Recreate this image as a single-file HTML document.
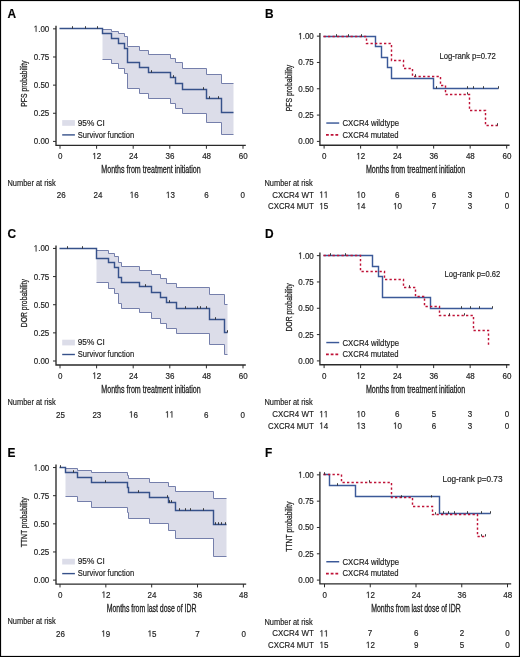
<!DOCTYPE html>
<html><head><meta charset="utf-8"><style>
html,body{margin:0;padding:0;background:#fff;}
body{width:520px;height:657px;overflow:hidden;}
svg{display:block;font-family:"Liberation Sans", sans-serif;will-change:transform;}
text{stroke:#1e1e1e;stroke-width:0.18px;}
.g{will-change:transform;}
</style></head><body>
<svg width="520" height="657" viewBox="0 0 520 657">
<rect x="0" y="0" width="520" height="657" fill="#fff"/>
<g opacity="0.999">
<path d="M102.50 29.50L111.50 29.50L111.50 31.50L118.50 31.50L118.50 33.50L124.50 33.50L124.50 36.50L127.50 36.50L127.50 46.50L139.50 46.50L139.50 50.50L148.50 50.50L148.50 54.50L170.50 54.50L170.50 58.50L175.50 58.50L175.50 62.50L182.50 62.50L182.50 68.50L206.50 68.50L206.50 74.50L221.50 74.50L221.50 83.50L233.50 83.50L233.50 134.50L221.50 134.50L221.50 122.50L206.50 122.50L206.50 113.50L182.50 113.50L182.50 108.50L175.50 108.50L175.50 103.50L170.50 103.50L170.50 98.50L148.50 98.50L148.50 93.50L139.50 93.50L139.50 88.50L127.50 88.50L127.50 73.50L124.50 73.50L124.50 68.50L118.50 68.50L118.50 63.50L111.50 63.50L111.50 59.50L102.50 59.50Z" fill="#dcdde9"/>
<path d="M102.50 29.50H111.50V31.50H118.50V33.50H124.50V36.50H127.50V46.50H139.50V50.50H148.50V54.50H170.50V58.50H175.50V62.50H182.50V68.50H206.50V74.50H221.50V83.50H233.50" fill="none" stroke="#757fab" stroke-width="1"/>
<path d="M102.50 59.50H111.50V63.50H118.50V68.50H124.50V73.50H127.50V88.50H139.50V93.50H148.50V98.50H170.50V103.50H175.50V108.50H182.50V113.50H206.50V122.50H221.50V134.50H233.50" fill="none" stroke="#757fab" stroke-width="1"/>
<path d="M59.50 28.50H102.50V33.50H111.50V38.50H118.50V43.50H124.50V48.50H127.50V62.50H139.50V67.50H148.50V72.50H170.50V77.50H175.50V83.50H182.50V89.50H206.50V98.50H221.50V112.50H233.50" fill="none" stroke="#36518a" stroke-width="1.45"/>
<path d="M72.50 28.50V26.20" stroke="#2a2a2a" stroke-width="0.9"/>
<path d="M85.50 28.50V26.20" stroke="#2a2a2a" stroke-width="0.9"/>
<path d="M97.50 28.50V26.20" stroke="#2a2a2a" stroke-width="0.9"/>
<path d="M151.50 72.50V70.20" stroke="#2a2a2a" stroke-width="0.9"/>
<path d="M173.50 77.50V75.20" stroke="#2a2a2a" stroke-width="0.9"/>
<path d="M203.50 89.50V87.20" stroke="#2a2a2a" stroke-width="0.9"/>
<path d="M209.50 98.50V96.20" stroke="#2a2a2a" stroke-width="0.9"/>
<path d="M218.50 98.50V96.20" stroke="#2a2a2a" stroke-width="0.9"/>
<path d="M56.00 25.80V145.35H245.80" fill="none" stroke="#2a2a2a" stroke-width="1.35"/>
<path d="M53.00 28.85H56.00" stroke="#2a2a2a" stroke-width="1"/>
<path transform="translate(33.71,31.85) scale(0.00391,-0.00435)" d="M696 0H515V1237L197 1010V1180L530 1409H696Z" fill="#1e1e1e" stroke="#1e1e1e" stroke-width="41.4"/>
<text transform="translate(38.17,31.85) scale(0.9,1)" font-size="8.9" fill="#1e1e1e">.00</text>
<path d="M53.00 56.99H56.00" stroke="#2a2a2a" stroke-width="1"/>
<text transform="translate(49.30,59.99) scale(0.9,1)" font-size="8.9" text-anchor="end" font-weight="normal" fill="#1e1e1e">0.75</text>
<path d="M53.00 85.13H56.00" stroke="#2a2a2a" stroke-width="1"/>
<text transform="translate(49.30,88.13) scale(0.9,1)" font-size="8.9" text-anchor="end" font-weight="normal" fill="#1e1e1e">0.50</text>
<path d="M53.00 113.26H56.00" stroke="#2a2a2a" stroke-width="1"/>
<text transform="translate(49.30,116.26) scale(0.9,1)" font-size="8.9" text-anchor="end" font-weight="normal" fill="#1e1e1e">0.25</text>
<path d="M53.00 141.40H56.00" stroke="#2a2a2a" stroke-width="1"/>
<text transform="translate(49.30,144.40) scale(0.9,1)" font-size="8.9" text-anchor="end" font-weight="normal" fill="#1e1e1e">0.00</text>
<path d="M60.00 145.35V148.75" stroke="#2a2a2a" stroke-width="1"/>
<text transform="translate(60.20,159.05) scale(0.9,1)" font-size="8.9" text-anchor="middle" font-weight="normal" fill="#1e1e1e">0</text>
<path d="M96.60 145.35V148.75" stroke="#2a2a2a" stroke-width="1"/>
<path transform="translate(92.35,159.05) scale(0.00391,-0.00435)" d="M696 0H515V1237L197 1010V1180L530 1409H696Z" fill="#1e1e1e" stroke="#1e1e1e" stroke-width="41.4"/>
<text transform="translate(96.80,159.05) scale(0.9,1)" font-size="8.9" fill="#1e1e1e">2</text>
<path d="M133.20 145.35V148.75" stroke="#2a2a2a" stroke-width="1"/>
<text transform="translate(133.40,159.05) scale(0.9,1)" font-size="8.9" text-anchor="middle" font-weight="normal" fill="#1e1e1e">24</text>
<path d="M169.80 145.35V148.75" stroke="#2a2a2a" stroke-width="1"/>
<text transform="translate(170.00,159.05) scale(0.9,1)" font-size="8.9" text-anchor="middle" font-weight="normal" fill="#1e1e1e">36</text>
<path d="M206.40 145.35V148.75" stroke="#2a2a2a" stroke-width="1"/>
<text transform="translate(206.60,159.05) scale(0.9,1)" font-size="8.9" text-anchor="middle" font-weight="normal" fill="#1e1e1e">48</text>
<path d="M243.00 145.35V148.75" stroke="#2a2a2a" stroke-width="1"/>
<text transform="translate(243.20,159.05) scale(0.9,1)" font-size="8.9" text-anchor="middle" font-weight="normal" fill="#1e1e1e">60</text>
<text x="101.30" y="173.10" font-size="10.0" textLength="99.4" lengthAdjust="spacingAndGlyphs" fill="#1e1e1e" style="stroke-width:0.3px">Months from treatment initiation</text>
<text transform="translate(27.00,83.60) rotate(-90)" x="-23.10" y="0" font-size="9.4" textLength="46.2" lengthAdjust="spacingAndGlyphs" fill="#1e1e1e" style="stroke-width:0.25px">PFS probability</text>
<text transform="translate(7.60,18.00) scale(1.0,1)" font-size="11.9" text-anchor="start" font-weight="bold" fill="#000">A</text>
<rect x="62.20" y="120.10" width="12.7" height="5.7" fill="#dcdde9"/>
<text transform="translate(77.70,125.60) scale(0.9,1)" font-size="8.9" text-anchor="start" font-weight="normal" fill="#1e1e1e" textLength="30.11" lengthAdjust="spacingAndGlyphs">95% CI</text>
<path d="M62.20 134.90H74.90" stroke="#36518a" stroke-width="1.4"/>
<text transform="translate(77.70,137.50) scale(0.9,1)" font-size="8.9" text-anchor="start" font-weight="normal" fill="#1e1e1e" textLength="62.67" lengthAdjust="spacingAndGlyphs">Survivor function</text>
<text transform="translate(7.50,185.70) scale(0.9,1)" font-size="8.9" text-anchor="start" font-weight="normal" fill="#1e1e1e" textLength="53.67" lengthAdjust="spacingAndGlyphs">Number at risk</text>
<text transform="translate(61.30,197.90) scale(0.9,1)" font-size="8.9" text-anchor="middle" font-weight="normal" fill="#1e1e1e">26</text>
<text transform="translate(97.90,197.90) scale(0.9,1)" font-size="8.9" text-anchor="middle" font-weight="normal" fill="#1e1e1e">24</text>
<path transform="translate(129.75,197.90) scale(0.00391,-0.00435)" d="M696 0H515V1237L197 1010V1180L530 1409H696Z" fill="#1e1e1e" stroke="#1e1e1e" stroke-width="41.4"/>
<text transform="translate(134.20,197.90) scale(0.9,1)" font-size="8.9" fill="#1e1e1e">6</text>
<path transform="translate(165.95,197.90) scale(0.00391,-0.00435)" d="M696 0H515V1237L197 1010V1180L530 1409H696Z" fill="#1e1e1e" stroke="#1e1e1e" stroke-width="41.4"/>
<text transform="translate(170.40,197.90) scale(0.9,1)" font-size="8.9" fill="#1e1e1e">3</text>
<text transform="translate(206.40,197.90) scale(0.9,1)" font-size="8.9" text-anchor="middle" font-weight="normal" fill="#1e1e1e">6</text>
<text transform="translate(242.60,197.90) scale(0.9,1)" font-size="8.9" text-anchor="middle" font-weight="normal" fill="#1e1e1e">0</text>
<path d="M96.50 250.50L108.50 250.50L108.50 253.50L114.50 253.50L114.50 256.50L118.50 256.50L118.50 262.50L121.50 262.50L121.50 266.50L139.50 266.50L139.50 270.50L151.50 270.50L151.50 274.50L160.50 274.50L160.50 278.50L166.50 278.50L166.50 283.50L176.50 283.50L176.50 287.50L209.50 287.50L209.50 294.50L224.50 294.50L224.50 304.50L227.50 304.50L227.50 354.50L224.50 354.50L224.50 344.50L209.50 344.50L209.50 333.50L176.50 333.50L176.50 328.50L166.50 328.50L166.50 323.50L160.50 323.50L160.50 318.50L151.50 318.50L151.50 312.50L139.50 312.50L139.50 308.50L121.50 308.50L121.50 303.50L118.50 303.50L118.50 293.50L114.50 293.50L114.50 288.50L108.50 288.50L108.50 282.50L96.50 282.50Z" fill="#dcdde9"/>
<path d="M96.50 250.50H108.50V253.50H114.50V256.50H118.50V262.50H121.50V266.50H139.50V270.50H151.50V274.50H160.50V278.50H166.50V283.50H176.50V287.50H209.50V294.50H224.50V304.50H227.50" fill="none" stroke="#757fab" stroke-width="1"/>
<path d="M96.50 282.50H108.50V288.50H114.50V293.50H118.50V303.50H121.50V308.50H139.50V312.50H151.50V318.50H160.50V323.50H166.50V328.50H176.50V333.50H209.50V344.50H224.50V354.50H227.50" fill="none" stroke="#757fab" stroke-width="1"/>
<path d="M59.50 248.50H96.50V258.50H108.50V262.50H114.50V267.50H118.50V277.50H121.50V282.50H139.50V286.50H151.50V292.50H160.50V297.50H166.50V302.50H176.50V308.50H209.50V319.50H224.50V332.50H227.50" fill="none" stroke="#36518a" stroke-width="1.45"/>
<path d="M67.50 248.50V246.20" stroke="#2a2a2a" stroke-width="0.9"/>
<path d="M82.50 248.50V246.20" stroke="#2a2a2a" stroke-width="0.9"/>
<path d="M145.50 286.50V284.20" stroke="#2a2a2a" stroke-width="0.9"/>
<path d="M169.50 302.50V300.20" stroke="#2a2a2a" stroke-width="0.9"/>
<path d="M185.50 308.50V306.20" stroke="#2a2a2a" stroke-width="0.9"/>
<path d="M197.50 308.50V306.20" stroke="#2a2a2a" stroke-width="0.9"/>
<path d="M200.50 308.50V306.20" stroke="#2a2a2a" stroke-width="0.9"/>
<path d="M206.50 308.50V306.20" stroke="#2a2a2a" stroke-width="0.9"/>
<path d="M215.50 319.50V317.20" stroke="#2a2a2a" stroke-width="0.9"/>
<path d="M227.50 332.50V330.20" stroke="#2a2a2a" stroke-width="0.9"/>
<path d="M56.00 245.40V364.95H245.80" fill="none" stroke="#2a2a2a" stroke-width="1.35"/>
<path d="M53.00 248.45H56.00" stroke="#2a2a2a" stroke-width="1"/>
<path transform="translate(33.71,251.45) scale(0.00391,-0.00435)" d="M696 0H515V1237L197 1010V1180L530 1409H696Z" fill="#1e1e1e" stroke="#1e1e1e" stroke-width="41.4"/>
<text transform="translate(38.17,251.45) scale(0.9,1)" font-size="8.9" fill="#1e1e1e">.00</text>
<path d="M53.00 276.59H56.00" stroke="#2a2a2a" stroke-width="1"/>
<text transform="translate(49.30,279.59) scale(0.9,1)" font-size="8.9" text-anchor="end" font-weight="normal" fill="#1e1e1e">0.75</text>
<path d="M53.00 304.73H56.00" stroke="#2a2a2a" stroke-width="1"/>
<text transform="translate(49.30,307.73) scale(0.9,1)" font-size="8.9" text-anchor="end" font-weight="normal" fill="#1e1e1e">0.50</text>
<path d="M53.00 332.86H56.00" stroke="#2a2a2a" stroke-width="1"/>
<text transform="translate(49.30,335.86) scale(0.9,1)" font-size="8.9" text-anchor="end" font-weight="normal" fill="#1e1e1e">0.25</text>
<path d="M53.00 361.00H56.00" stroke="#2a2a2a" stroke-width="1"/>
<text transform="translate(49.30,364.00) scale(0.9,1)" font-size="8.9" text-anchor="end" font-weight="normal" fill="#1e1e1e">0.00</text>
<path d="M60.00 364.95V368.35" stroke="#2a2a2a" stroke-width="1"/>
<text transform="translate(60.20,378.65) scale(0.9,1)" font-size="8.9" text-anchor="middle" font-weight="normal" fill="#1e1e1e">0</text>
<path d="M96.60 364.95V368.35" stroke="#2a2a2a" stroke-width="1"/>
<path transform="translate(92.35,378.65) scale(0.00391,-0.00435)" d="M696 0H515V1237L197 1010V1180L530 1409H696Z" fill="#1e1e1e" stroke="#1e1e1e" stroke-width="41.4"/>
<text transform="translate(96.80,378.65) scale(0.9,1)" font-size="8.9" fill="#1e1e1e">2</text>
<path d="M133.20 364.95V368.35" stroke="#2a2a2a" stroke-width="1"/>
<text transform="translate(133.40,378.65) scale(0.9,1)" font-size="8.9" text-anchor="middle" font-weight="normal" fill="#1e1e1e">24</text>
<path d="M169.80 364.95V368.35" stroke="#2a2a2a" stroke-width="1"/>
<text transform="translate(170.00,378.65) scale(0.9,1)" font-size="8.9" text-anchor="middle" font-weight="normal" fill="#1e1e1e">36</text>
<path d="M206.40 364.95V368.35" stroke="#2a2a2a" stroke-width="1"/>
<text transform="translate(206.60,378.65) scale(0.9,1)" font-size="8.9" text-anchor="middle" font-weight="normal" fill="#1e1e1e">48</text>
<path d="M243.00 364.95V368.35" stroke="#2a2a2a" stroke-width="1"/>
<text transform="translate(243.20,378.65) scale(0.9,1)" font-size="8.9" text-anchor="middle" font-weight="normal" fill="#1e1e1e">60</text>
<text x="101.30" y="392.70" font-size="10.0" textLength="99.4" lengthAdjust="spacingAndGlyphs" fill="#1e1e1e" style="stroke-width:0.3px">Months from treatment initiation</text>
<text transform="translate(27.00,303.20) rotate(-90)" x="-24.10" y="0" font-size="9.4" textLength="48.2" lengthAdjust="spacingAndGlyphs" fill="#1e1e1e" style="stroke-width:0.25px">DOR probability</text>
<text transform="translate(7.60,237.60) scale(1.0,1)" font-size="11.9" text-anchor="start" font-weight="bold" fill="#000">C</text>
<rect x="62.20" y="339.70" width="12.7" height="5.7" fill="#dcdde9"/>
<text transform="translate(77.70,345.20) scale(0.9,1)" font-size="8.9" text-anchor="start" font-weight="normal" fill="#1e1e1e" textLength="30.11" lengthAdjust="spacingAndGlyphs">95% CI</text>
<path d="M62.20 354.50H74.90" stroke="#36518a" stroke-width="1.4"/>
<text transform="translate(77.70,357.10) scale(0.9,1)" font-size="8.9" text-anchor="start" font-weight="normal" fill="#1e1e1e" textLength="62.67" lengthAdjust="spacingAndGlyphs">Survivor function</text>
<text transform="translate(7.50,405.30) scale(0.9,1)" font-size="8.9" text-anchor="start" font-weight="normal" fill="#1e1e1e" textLength="53.67" lengthAdjust="spacingAndGlyphs">Number at risk</text>
<text transform="translate(60.50,417.50) scale(0.9,1)" font-size="8.9" text-anchor="middle" font-weight="normal" fill="#1e1e1e">25</text>
<text transform="translate(96.85,417.50) scale(0.9,1)" font-size="8.9" text-anchor="middle" font-weight="normal" fill="#1e1e1e">23</text>
<path transform="translate(129.05,417.50) scale(0.00391,-0.00435)" d="M696 0H515V1237L197 1010V1180L530 1409H696Z" fill="#1e1e1e" stroke="#1e1e1e" stroke-width="41.4"/>
<text transform="translate(133.50,417.50) scale(0.9,1)" font-size="8.9" fill="#1e1e1e">6</text>
<path transform="translate(165.15,417.50) scale(0.00391,-0.00435)" d="M696 0H515V1237L197 1010V1180L530 1409H696Z" fill="#1e1e1e" stroke="#1e1e1e" stroke-width="41.4"/>
<path transform="translate(169.60,417.50) scale(0.00391,-0.00435)" d="M696 0H515V1237L197 1010V1180L530 1409H696Z" fill="#1e1e1e" stroke="#1e1e1e" stroke-width="41.4"/>
<text transform="translate(206.20,417.50) scale(0.9,1)" font-size="8.9" text-anchor="middle" font-weight="normal" fill="#1e1e1e">6</text>
<text transform="translate(242.60,417.50) scale(0.9,1)" font-size="8.9" text-anchor="middle" font-weight="normal" fill="#1e1e1e">0</text>
<path d="M65.50 468.50L77.50 468.50L77.50 470.50L91.50 470.50L91.50 472.50L127.50 472.50L127.50 475.50L128.50 475.50L128.50 478.50L149.50 478.50L149.50 482.50L168.50 482.50L168.50 486.50L175.50 486.50L175.50 491.50L213.50 491.50L213.50 498.50L226.50 498.50L226.50 556.50L213.50 556.50L213.50 538.50L175.50 538.50L175.50 530.50L168.50 530.50L168.50 523.50L149.50 523.50L149.50 518.50L128.50 518.50L128.50 512.50L127.50 512.50L127.50 507.50L91.50 507.50L91.50 501.50L77.50 501.50L77.50 496.50L65.50 496.50Z" fill="#dcdde9"/>
<path d="M65.50 468.50H77.50V470.50H91.50V472.50H127.50V475.50H128.50V478.50H149.50V482.50H168.50V486.50H175.50V491.50H213.50V498.50H226.50" fill="none" stroke="#757fab" stroke-width="1"/>
<path d="M65.50 496.50H77.50V501.50H91.50V507.50H127.50V512.50H128.50V518.50H149.50V523.50H168.50V530.50H175.50V538.50H213.50V556.50H226.50" fill="none" stroke="#757fab" stroke-width="1"/>
<path d="M59.50 467.50H65.50V472.50H77.50V477.50H91.50V482.50H127.50V487.50H128.50V492.50H149.50V497.50H168.50V502.50H175.50V510.50H213.50V524.50H226.50" fill="none" stroke="#36518a" stroke-width="1.45"/>
<path d="M60.50 467.50V465.20" stroke="#2a2a2a" stroke-width="0.9"/>
<path d="M73.50 472.50V470.20" stroke="#2a2a2a" stroke-width="0.9"/>
<path d="M105.50 482.50V480.20" stroke="#2a2a2a" stroke-width="0.9"/>
<path d="M138.50 492.50V490.20" stroke="#2a2a2a" stroke-width="0.9"/>
<path d="M167.50 497.50V495.20" stroke="#2a2a2a" stroke-width="0.9"/>
<path d="M169.50 502.50V500.20" stroke="#2a2a2a" stroke-width="0.9"/>
<path d="M171.50 502.50V500.20" stroke="#2a2a2a" stroke-width="0.9"/>
<path d="M179.50 510.50V508.20" stroke="#2a2a2a" stroke-width="0.9"/>
<path d="M185.50 510.50V508.20" stroke="#2a2a2a" stroke-width="0.9"/>
<path d="M190.50 510.50V508.20" stroke="#2a2a2a" stroke-width="0.9"/>
<path d="M203.50 510.50V508.20" stroke="#2a2a2a" stroke-width="0.9"/>
<path d="M215.50 524.50V522.20" stroke="#2a2a2a" stroke-width="0.9"/>
<path d="M218.50 524.50V522.20" stroke="#2a2a2a" stroke-width="0.9"/>
<path d="M221.50 524.50V522.20" stroke="#2a2a2a" stroke-width="0.9"/>
<path d="M225.50 524.50V522.20" stroke="#2a2a2a" stroke-width="0.9"/>
<path d="M56.00 464.50V584.05H246.20" fill="none" stroke="#2a2a2a" stroke-width="1.35"/>
<path d="M53.00 467.55H56.00" stroke="#2a2a2a" stroke-width="1"/>
<path transform="translate(33.71,470.55) scale(0.00391,-0.00435)" d="M696 0H515V1237L197 1010V1180L530 1409H696Z" fill="#1e1e1e" stroke="#1e1e1e" stroke-width="41.4"/>
<text transform="translate(38.17,470.55) scale(0.9,1)" font-size="8.9" fill="#1e1e1e">.00</text>
<path d="M53.00 495.69H56.00" stroke="#2a2a2a" stroke-width="1"/>
<text transform="translate(49.30,498.69) scale(0.9,1)" font-size="8.9" text-anchor="end" font-weight="normal" fill="#1e1e1e">0.75</text>
<path d="M53.00 523.83H56.00" stroke="#2a2a2a" stroke-width="1"/>
<text transform="translate(49.30,526.83) scale(0.9,1)" font-size="8.9" text-anchor="end" font-weight="normal" fill="#1e1e1e">0.50</text>
<path d="M53.00 551.96H56.00" stroke="#2a2a2a" stroke-width="1"/>
<text transform="translate(49.30,554.96) scale(0.9,1)" font-size="8.9" text-anchor="end" font-weight="normal" fill="#1e1e1e">0.25</text>
<path d="M53.00 580.10H56.00" stroke="#2a2a2a" stroke-width="1"/>
<text transform="translate(49.30,583.10) scale(0.9,1)" font-size="8.9" text-anchor="end" font-weight="normal" fill="#1e1e1e">0.00</text>
<path d="M60.00 584.05V587.45" stroke="#2a2a2a" stroke-width="1"/>
<text transform="translate(60.20,597.75) scale(0.9,1)" font-size="8.9" text-anchor="middle" font-weight="normal" fill="#1e1e1e">0</text>
<path d="M105.84 584.05V587.45" stroke="#2a2a2a" stroke-width="1"/>
<path transform="translate(101.59,597.75) scale(0.00391,-0.00435)" d="M696 0H515V1237L197 1010V1180L530 1409H696Z" fill="#1e1e1e" stroke="#1e1e1e" stroke-width="41.4"/>
<text transform="translate(106.04,597.75) scale(0.9,1)" font-size="8.9" fill="#1e1e1e">2</text>
<path d="M151.68 584.05V587.45" stroke="#2a2a2a" stroke-width="1"/>
<text transform="translate(151.88,597.75) scale(0.9,1)" font-size="8.9" text-anchor="middle" font-weight="normal" fill="#1e1e1e">24</text>
<path d="M197.52 584.05V587.45" stroke="#2a2a2a" stroke-width="1"/>
<text transform="translate(197.72,597.75) scale(0.9,1)" font-size="8.9" text-anchor="middle" font-weight="normal" fill="#1e1e1e">36</text>
<path d="M243.36 584.05V587.45" stroke="#2a2a2a" stroke-width="1"/>
<text transform="translate(243.56,597.75) scale(0.9,1)" font-size="8.9" text-anchor="middle" font-weight="normal" fill="#1e1e1e">48</text>
<text x="106.70" y="611.80" font-size="10.0" textLength="89.8" lengthAdjust="spacingAndGlyphs" fill="#1e1e1e" style="stroke-width:0.3px">Months from last dose of IDR</text>
<text transform="translate(27.00,522.30) rotate(-90)" x="-25.00" y="0" font-size="9.4" textLength="50.0" lengthAdjust="spacingAndGlyphs" fill="#1e1e1e" style="stroke-width:0.25px">TTNT probability</text>
<text transform="translate(7.60,456.70) scale(1.0,1)" font-size="11.9" text-anchor="start" font-weight="bold" fill="#000">E</text>
<rect x="62.20" y="558.80" width="12.7" height="5.7" fill="#dcdde9"/>
<text transform="translate(77.70,564.30) scale(0.9,1)" font-size="8.9" text-anchor="start" font-weight="normal" fill="#1e1e1e" textLength="30.11" lengthAdjust="spacingAndGlyphs">95% CI</text>
<path d="M62.20 573.60H74.90" stroke="#36518a" stroke-width="1.4"/>
<text transform="translate(77.70,576.20) scale(0.9,1)" font-size="8.9" text-anchor="start" font-weight="normal" fill="#1e1e1e" textLength="62.67" lengthAdjust="spacingAndGlyphs">Survivor function</text>
<text transform="translate(7.50,624.40) scale(0.9,1)" font-size="8.9" text-anchor="start" font-weight="normal" fill="#1e1e1e" textLength="53.67" lengthAdjust="spacingAndGlyphs">Number at risk</text>
<text transform="translate(60.40,636.60) scale(0.9,1)" font-size="8.9" text-anchor="middle" font-weight="normal" fill="#1e1e1e">26</text>
<path transform="translate(101.35,636.60) scale(0.00391,-0.00435)" d="M696 0H515V1237L197 1010V1180L530 1409H696Z" fill="#1e1e1e" stroke="#1e1e1e" stroke-width="41.4"/>
<text transform="translate(105.80,636.60) scale(0.9,1)" font-size="8.9" fill="#1e1e1e">9</text>
<path transform="translate(147.65,636.60) scale(0.00391,-0.00435)" d="M696 0H515V1237L197 1010V1180L530 1409H696Z" fill="#1e1e1e" stroke="#1e1e1e" stroke-width="41.4"/>
<text transform="translate(152.10,636.60) scale(0.9,1)" font-size="8.9" fill="#1e1e1e">5</text>
<text transform="translate(197.50,636.60) scale(0.9,1)" font-size="8.9" text-anchor="middle" font-weight="normal" fill="#1e1e1e">7</text>
<text transform="translate(243.70,636.60) scale(0.9,1)" font-size="8.9" text-anchor="middle" font-weight="normal" fill="#1e1e1e">0</text>
<path d="M323.50 36.50H375.50V46.50H381.50V57.50H387.50V67.50H391.50V78.50H433.50V88.50H498.50" fill="none" stroke="#3b5998" stroke-width="1.45"/>
<path d="M323.50 36.50H366.50V43.50H391.50V60.50H403.50V68.50H412.50V76.50H440.50V85.50H445.50V94.50H469.50V110.50H485.50V125.50H498.50" fill="none" stroke="#bf1237" stroke-width="1.45" stroke-dasharray="2.3 2.2"/>
<path d="M336.50 36.50V34.20" stroke="#2a2a2a" stroke-width="0.9"/>
<path d="M348.50 36.50V34.20" stroke="#2a2a2a" stroke-width="0.9"/>
<path d="M361.50 36.50V34.20" stroke="#2a2a2a" stroke-width="0.9"/>
<path d="M436.50 88.50V86.20" stroke="#2a2a2a" stroke-width="0.9"/>
<path d="M467.50 88.50V86.20" stroke="#2a2a2a" stroke-width="0.9"/>
<path d="M473.50 88.50V86.20" stroke="#2a2a2a" stroke-width="0.9"/>
<path d="M483.50 88.50V86.20" stroke="#2a2a2a" stroke-width="0.9"/>
<path d="M498.50 88.50V86.20" stroke="#2a2a2a" stroke-width="0.9"/>
<path d="M415.50 76.50V74.20" stroke="#2a2a2a" stroke-width="0.9"/>
<path d="M467.50 94.50V92.20" stroke="#2a2a2a" stroke-width="0.9"/>
<path d="M497.50 125.50V123.20" stroke="#2a2a2a" stroke-width="0.9"/>
<path d="M319.90 33.10V145.20H509.60" fill="none" stroke="#2a2a2a" stroke-width="1.35"/>
<path d="M316.90 36.15H319.90" stroke="#2a2a2a" stroke-width="1"/>
<path transform="translate(298.21,39.15) scale(0.00391,-0.00435)" d="M696 0H515V1237L197 1010V1180L530 1409H696Z" fill="#1e1e1e" stroke="#1e1e1e" stroke-width="41.4"/>
<text transform="translate(302.67,39.15) scale(0.9,1)" font-size="8.9" fill="#1e1e1e">.00</text>
<path d="M316.90 62.46H319.90" stroke="#2a2a2a" stroke-width="1"/>
<text transform="translate(313.80,65.46) scale(0.9,1)" font-size="8.9" text-anchor="end" font-weight="normal" fill="#1e1e1e">0.75</text>
<path d="M316.90 88.78H319.90" stroke="#2a2a2a" stroke-width="1"/>
<text transform="translate(313.80,91.78) scale(0.9,1)" font-size="8.9" text-anchor="end" font-weight="normal" fill="#1e1e1e">0.50</text>
<path d="M316.90 115.09H319.90" stroke="#2a2a2a" stroke-width="1"/>
<text transform="translate(313.80,118.09) scale(0.9,1)" font-size="8.9" text-anchor="end" font-weight="normal" fill="#1e1e1e">0.25</text>
<path d="M316.90 141.40H319.90" stroke="#2a2a2a" stroke-width="1"/>
<text transform="translate(313.80,144.40) scale(0.9,1)" font-size="8.9" text-anchor="end" font-weight="normal" fill="#1e1e1e">0.00</text>
<path d="M324.10 145.20V148.60" stroke="#2a2a2a" stroke-width="1"/>
<text transform="translate(324.30,159.20) scale(0.9,1)" font-size="8.9" text-anchor="middle" font-weight="normal" fill="#1e1e1e">0</text>
<path d="M360.62 145.20V148.60" stroke="#2a2a2a" stroke-width="1"/>
<path transform="translate(356.36,159.20) scale(0.00391,-0.00435)" d="M696 0H515V1237L197 1010V1180L530 1409H696Z" fill="#1e1e1e" stroke="#1e1e1e" stroke-width="41.4"/>
<text transform="translate(360.82,159.20) scale(0.9,1)" font-size="8.9" fill="#1e1e1e">2</text>
<path d="M397.13 145.20V148.60" stroke="#2a2a2a" stroke-width="1"/>
<text transform="translate(397.33,159.20) scale(0.9,1)" font-size="8.9" text-anchor="middle" font-weight="normal" fill="#1e1e1e">24</text>
<path d="M433.65 145.20V148.60" stroke="#2a2a2a" stroke-width="1"/>
<text transform="translate(433.85,159.20) scale(0.9,1)" font-size="8.9" text-anchor="middle" font-weight="normal" fill="#1e1e1e">36</text>
<path d="M470.16 145.20V148.60" stroke="#2a2a2a" stroke-width="1"/>
<text transform="translate(470.36,159.20) scale(0.9,1)" font-size="8.9" text-anchor="middle" font-weight="normal" fill="#1e1e1e">48</text>
<path d="M506.68 145.20V148.60" stroke="#2a2a2a" stroke-width="1"/>
<text transform="translate(506.88,159.20) scale(0.9,1)" font-size="8.9" text-anchor="middle" font-weight="normal" fill="#1e1e1e">60</text>
<text x="365.90" y="173.30" font-size="10.0" textLength="99.2" lengthAdjust="spacingAndGlyphs" fill="#1e1e1e" style="stroke-width:0.3px">Months from treatment initiation</text>
<text transform="translate(292.40,88.00) rotate(-90)" x="-23.30" y="0" font-size="9.4" textLength="46.6" lengthAdjust="spacingAndGlyphs" fill="#1e1e1e" style="stroke-width:0.25px">PFS probability</text>
<text transform="translate(264.90,18.00) scale(1.0,1)" font-size="11.9" text-anchor="start" font-weight="bold" fill="#000">B</text>
<text transform="translate(439.50,59.40) scale(0.9,1)" font-size="8.9" text-anchor="start" font-weight="normal" fill="#1e1e1e" textLength="62.56" lengthAdjust="spacingAndGlyphs">Log-rank p=0.72</text>
<path d="M326.3 123.05H339.2" stroke="#3b5998" stroke-width="1.45"/>
<text transform="translate(342.50,126.00) scale(0.9,1)" font-size="8.9" text-anchor="start" font-weight="normal" fill="#1e1e1e" textLength="62.89" lengthAdjust="spacingAndGlyphs">CXCR4 wildtype</text>
<path d="M326.0 134.85H339.2" stroke="#bf1237" stroke-width="1.7" stroke-dasharray="2.8 1.9"/>
<text transform="translate(342.50,137.60) scale(0.9,1)" font-size="8.9" text-anchor="start" font-weight="normal" fill="#1e1e1e" textLength="62.22" lengthAdjust="spacingAndGlyphs">CXCR4 mutated</text>
<text transform="translate(264.50,185.90) scale(0.9,1)" font-size="8.9" text-anchor="start" font-weight="normal" fill="#1e1e1e" textLength="53.67" lengthAdjust="spacingAndGlyphs">Number at risk</text>
<text transform="translate(313.80,197.70) scale(0.9,1)" font-size="8.9" text-anchor="end" font-weight="normal" fill="#1e1e1e" textLength="46.11" lengthAdjust="spacingAndGlyphs">CXCR4 WT</text>
<text transform="translate(313.80,209.20) scale(0.9,1)" font-size="8.9" text-anchor="end" font-weight="normal" fill="#1e1e1e" textLength="50.89" lengthAdjust="spacingAndGlyphs">CXCR4 MUT</text>
<path transform="translate(319.35,197.70) scale(0.00391,-0.00435)" d="M696 0H515V1237L197 1010V1180L530 1409H696Z" fill="#1e1e1e" stroke="#1e1e1e" stroke-width="41.4"/>
<path transform="translate(323.80,197.70) scale(0.00391,-0.00435)" d="M696 0H515V1237L197 1010V1180L530 1409H696Z" fill="#1e1e1e" stroke="#1e1e1e" stroke-width="41.4"/>
<path transform="translate(356.55,197.70) scale(0.00391,-0.00435)" d="M696 0H515V1237L197 1010V1180L530 1409H696Z" fill="#1e1e1e" stroke="#1e1e1e" stroke-width="41.4"/>
<text transform="translate(361.00,197.70) scale(0.9,1)" font-size="8.9" fill="#1e1e1e">0</text>
<text transform="translate(397.20,197.70) scale(0.9,1)" font-size="8.9" text-anchor="middle" font-weight="normal" fill="#1e1e1e">6</text>
<text transform="translate(433.90,197.70) scale(0.9,1)" font-size="8.9" text-anchor="middle" font-weight="normal" fill="#1e1e1e">6</text>
<text transform="translate(470.00,197.70) scale(0.9,1)" font-size="8.9" text-anchor="middle" font-weight="normal" fill="#1e1e1e">3</text>
<text transform="translate(506.90,197.70) scale(0.9,1)" font-size="8.9" text-anchor="middle" font-weight="normal" fill="#1e1e1e">0</text>
<path transform="translate(319.35,209.20) scale(0.00391,-0.00435)" d="M696 0H515V1237L197 1010V1180L530 1409H696Z" fill="#1e1e1e" stroke="#1e1e1e" stroke-width="41.4"/>
<text transform="translate(323.80,209.20) scale(0.9,1)" font-size="8.9" fill="#1e1e1e">5</text>
<path transform="translate(356.55,209.20) scale(0.00391,-0.00435)" d="M696 0H515V1237L197 1010V1180L530 1409H696Z" fill="#1e1e1e" stroke="#1e1e1e" stroke-width="41.4"/>
<text transform="translate(361.00,209.20) scale(0.9,1)" font-size="8.9" fill="#1e1e1e">4</text>
<path transform="translate(393.15,209.20) scale(0.00391,-0.00435)" d="M696 0H515V1237L197 1010V1180L530 1409H696Z" fill="#1e1e1e" stroke="#1e1e1e" stroke-width="41.4"/>
<text transform="translate(397.60,209.20) scale(0.9,1)" font-size="8.9" fill="#1e1e1e">0</text>
<text transform="translate(433.90,209.20) scale(0.9,1)" font-size="8.9" text-anchor="middle" font-weight="normal" fill="#1e1e1e">7</text>
<text transform="translate(470.00,209.20) scale(0.9,1)" font-size="8.9" text-anchor="middle" font-weight="normal" fill="#1e1e1e">3</text>
<text transform="translate(506.90,209.20) scale(0.9,1)" font-size="8.9" text-anchor="middle" font-weight="normal" fill="#1e1e1e">0</text>
<path d="M323.50 255.50H372.50V266.50H378.50V276.50H382.50V297.50H430.50V308.50H492.50" fill="none" stroke="#3b5998" stroke-width="1.45"/>
<path d="M323.50 255.50H360.50V271.50H384.50V279.50H403.50V287.50H415.50V296.50H424.50V306.50H439.50V315.50H473.50V330.50H488.50V346.50" fill="none" stroke="#bf1237" stroke-width="1.45" stroke-dasharray="2.3 2.2"/>
<path d="M330.50 255.50V253.20" stroke="#2a2a2a" stroke-width="0.9"/>
<path d="M345.50 255.50V253.20" stroke="#2a2a2a" stroke-width="0.9"/>
<path d="M461.50 308.50V306.20" stroke="#2a2a2a" stroke-width="0.9"/>
<path d="M470.50 308.50V306.20" stroke="#2a2a2a" stroke-width="0.9"/>
<path d="M479.50 308.50V306.20" stroke="#2a2a2a" stroke-width="0.9"/>
<path d="M492.50 308.50V306.20" stroke="#2a2a2a" stroke-width="0.9"/>
<path d="M409.50 287.50V285.20" stroke="#2a2a2a" stroke-width="0.9"/>
<path d="M449.50 315.50V313.20" stroke="#2a2a2a" stroke-width="0.9"/>
<path d="M464.50 315.50V313.20" stroke="#2a2a2a" stroke-width="0.9"/>
<path d="M319.90 252.60V364.70H509.60" fill="none" stroke="#2a2a2a" stroke-width="1.35"/>
<path d="M316.90 255.65H319.90" stroke="#2a2a2a" stroke-width="1"/>
<path transform="translate(298.21,258.65) scale(0.00391,-0.00435)" d="M696 0H515V1237L197 1010V1180L530 1409H696Z" fill="#1e1e1e" stroke="#1e1e1e" stroke-width="41.4"/>
<text transform="translate(302.67,258.65) scale(0.9,1)" font-size="8.9" fill="#1e1e1e">.00</text>
<path d="M316.90 281.96H319.90" stroke="#2a2a2a" stroke-width="1"/>
<text transform="translate(313.80,284.96) scale(0.9,1)" font-size="8.9" text-anchor="end" font-weight="normal" fill="#1e1e1e">0.75</text>
<path d="M316.90 308.28H319.90" stroke="#2a2a2a" stroke-width="1"/>
<text transform="translate(313.80,311.28) scale(0.9,1)" font-size="8.9" text-anchor="end" font-weight="normal" fill="#1e1e1e">0.50</text>
<path d="M316.90 334.59H319.90" stroke="#2a2a2a" stroke-width="1"/>
<text transform="translate(313.80,337.59) scale(0.9,1)" font-size="8.9" text-anchor="end" font-weight="normal" fill="#1e1e1e">0.25</text>
<path d="M316.90 360.90H319.90" stroke="#2a2a2a" stroke-width="1"/>
<text transform="translate(313.80,363.90) scale(0.9,1)" font-size="8.9" text-anchor="end" font-weight="normal" fill="#1e1e1e">0.00</text>
<path d="M324.10 364.70V368.10" stroke="#2a2a2a" stroke-width="1"/>
<text transform="translate(324.30,378.70) scale(0.9,1)" font-size="8.9" text-anchor="middle" font-weight="normal" fill="#1e1e1e">0</text>
<path d="M360.62 364.70V368.10" stroke="#2a2a2a" stroke-width="1"/>
<path transform="translate(356.36,378.70) scale(0.00391,-0.00435)" d="M696 0H515V1237L197 1010V1180L530 1409H696Z" fill="#1e1e1e" stroke="#1e1e1e" stroke-width="41.4"/>
<text transform="translate(360.82,378.70) scale(0.9,1)" font-size="8.9" fill="#1e1e1e">2</text>
<path d="M397.13 364.70V368.10" stroke="#2a2a2a" stroke-width="1"/>
<text transform="translate(397.33,378.70) scale(0.9,1)" font-size="8.9" text-anchor="middle" font-weight="normal" fill="#1e1e1e">24</text>
<path d="M433.65 364.70V368.10" stroke="#2a2a2a" stroke-width="1"/>
<text transform="translate(433.85,378.70) scale(0.9,1)" font-size="8.9" text-anchor="middle" font-weight="normal" fill="#1e1e1e">36</text>
<path d="M470.16 364.70V368.10" stroke="#2a2a2a" stroke-width="1"/>
<text transform="translate(470.36,378.70) scale(0.9,1)" font-size="8.9" text-anchor="middle" font-weight="normal" fill="#1e1e1e">48</text>
<path d="M506.68 364.70V368.10" stroke="#2a2a2a" stroke-width="1"/>
<text transform="translate(506.88,378.70) scale(0.9,1)" font-size="8.9" text-anchor="middle" font-weight="normal" fill="#1e1e1e">60</text>
<text x="365.90" y="392.80" font-size="10.0" textLength="99.2" lengthAdjust="spacingAndGlyphs" fill="#1e1e1e" style="stroke-width:0.3px">Months from treatment initiation</text>
<text transform="translate(292.40,307.50) rotate(-90)" x="-24.10" y="0" font-size="9.4" textLength="48.2" lengthAdjust="spacingAndGlyphs" fill="#1e1e1e" style="stroke-width:0.25px">DOR probability</text>
<text transform="translate(264.90,237.50) scale(1.0,1)" font-size="11.9" text-anchor="start" font-weight="bold" fill="#000">D</text>
<text transform="translate(444.45,276.80) scale(0.9,1)" font-size="8.9" text-anchor="start" font-weight="normal" fill="#1e1e1e" textLength="62.00" lengthAdjust="spacingAndGlyphs">Log-rank p=0.62</text>
<path d="M326.3 342.55H339.2" stroke="#3b5998" stroke-width="1.45"/>
<text transform="translate(342.50,345.50) scale(0.9,1)" font-size="8.9" text-anchor="start" font-weight="normal" fill="#1e1e1e" textLength="62.89" lengthAdjust="spacingAndGlyphs">CXCR4 wildtype</text>
<path d="M326.0 354.35H339.2" stroke="#bf1237" stroke-width="1.7" stroke-dasharray="2.8 1.9"/>
<text transform="translate(342.50,357.10) scale(0.9,1)" font-size="8.9" text-anchor="start" font-weight="normal" fill="#1e1e1e" textLength="62.22" lengthAdjust="spacingAndGlyphs">CXCR4 mutated</text>
<text transform="translate(264.50,405.40) scale(0.9,1)" font-size="8.9" text-anchor="start" font-weight="normal" fill="#1e1e1e" textLength="53.67" lengthAdjust="spacingAndGlyphs">Number at risk</text>
<text transform="translate(313.80,417.20) scale(0.9,1)" font-size="8.9" text-anchor="end" font-weight="normal" fill="#1e1e1e" textLength="46.11" lengthAdjust="spacingAndGlyphs">CXCR4 WT</text>
<text transform="translate(313.80,428.70) scale(0.9,1)" font-size="8.9" text-anchor="end" font-weight="normal" fill="#1e1e1e" textLength="50.89" lengthAdjust="spacingAndGlyphs">CXCR4 MUT</text>
<path transform="translate(319.35,417.20) scale(0.00391,-0.00435)" d="M696 0H515V1237L197 1010V1180L530 1409H696Z" fill="#1e1e1e" stroke="#1e1e1e" stroke-width="41.4"/>
<path transform="translate(323.80,417.20) scale(0.00391,-0.00435)" d="M696 0H515V1237L197 1010V1180L530 1409H696Z" fill="#1e1e1e" stroke="#1e1e1e" stroke-width="41.4"/>
<path transform="translate(356.55,417.20) scale(0.00391,-0.00435)" d="M696 0H515V1237L197 1010V1180L530 1409H696Z" fill="#1e1e1e" stroke="#1e1e1e" stroke-width="41.4"/>
<text transform="translate(361.00,417.20) scale(0.9,1)" font-size="8.9" fill="#1e1e1e">0</text>
<text transform="translate(397.20,417.20) scale(0.9,1)" font-size="8.9" text-anchor="middle" font-weight="normal" fill="#1e1e1e">6</text>
<text transform="translate(433.90,417.20) scale(0.9,1)" font-size="8.9" text-anchor="middle" font-weight="normal" fill="#1e1e1e">5</text>
<text transform="translate(470.00,417.20) scale(0.9,1)" font-size="8.9" text-anchor="middle" font-weight="normal" fill="#1e1e1e">3</text>
<text transform="translate(506.90,417.20) scale(0.9,1)" font-size="8.9" text-anchor="middle" font-weight="normal" fill="#1e1e1e">0</text>
<path transform="translate(319.35,428.70) scale(0.00391,-0.00435)" d="M696 0H515V1237L197 1010V1180L530 1409H696Z" fill="#1e1e1e" stroke="#1e1e1e" stroke-width="41.4"/>
<text transform="translate(323.80,428.70) scale(0.9,1)" font-size="8.9" fill="#1e1e1e">4</text>
<path transform="translate(356.55,428.70) scale(0.00391,-0.00435)" d="M696 0H515V1237L197 1010V1180L530 1409H696Z" fill="#1e1e1e" stroke="#1e1e1e" stroke-width="41.4"/>
<text transform="translate(361.00,428.70) scale(0.9,1)" font-size="8.9" fill="#1e1e1e">3</text>
<path transform="translate(393.15,428.70) scale(0.00391,-0.00435)" d="M696 0H515V1237L197 1010V1180L530 1409H696Z" fill="#1e1e1e" stroke="#1e1e1e" stroke-width="41.4"/>
<text transform="translate(397.60,428.70) scale(0.9,1)" font-size="8.9" fill="#1e1e1e">0</text>
<text transform="translate(433.90,428.70) scale(0.9,1)" font-size="8.9" text-anchor="middle" font-weight="normal" fill="#1e1e1e">6</text>
<text transform="translate(470.00,428.70) scale(0.9,1)" font-size="8.9" text-anchor="middle" font-weight="normal" fill="#1e1e1e">3</text>
<text transform="translate(506.90,428.70) scale(0.9,1)" font-size="8.9" text-anchor="middle" font-weight="normal" fill="#1e1e1e">0</text>
<path d="M323.50 474.50H329.50V485.50H355.50V496.50H439.50V513.50H490.50" fill="none" stroke="#3b5998" stroke-width="1.45"/>
<path d="M323.50 474.50H341.50V482.50H391.50V497.50H412.50V506.50H432.50V514.50H477.50V536.50H486.50" fill="none" stroke="#bf1237" stroke-width="1.45" stroke-dasharray="2.3 2.2"/>
<path d="M337.50 485.50V483.20" stroke="#2a2a2a" stroke-width="0.9"/>
<path d="M401.50 497.50V495.20" stroke="#2a2a2a" stroke-width="0.9"/>
<path d="M431.50 497.50V495.20" stroke="#2a2a2a" stroke-width="0.9"/>
<path d="M443.50 513.50V511.20" stroke="#2a2a2a" stroke-width="0.9"/>
<path d="M448.50 513.50V511.20" stroke="#2a2a2a" stroke-width="0.9"/>
<path d="M454.50 513.50V511.20" stroke="#2a2a2a" stroke-width="0.9"/>
<path d="M467.50 513.50V511.20" stroke="#2a2a2a" stroke-width="0.9"/>
<path d="M481.50 513.50V511.20" stroke="#2a2a2a" stroke-width="0.9"/>
<path d="M490.50 513.50V511.20" stroke="#2a2a2a" stroke-width="0.9"/>
<path d="M324.50 474.50V472.20" stroke="#2a2a2a" stroke-width="0.9"/>
<path d="M369.50 482.50V480.20" stroke="#2a2a2a" stroke-width="0.9"/>
<path d="M435.50 514.50V512.20" stroke="#2a2a2a" stroke-width="0.9"/>
<path d="M481.50 536.50V534.20" stroke="#2a2a2a" stroke-width="0.9"/>
<path d="M485.50 536.50V534.20" stroke="#2a2a2a" stroke-width="0.9"/>
<path d="M319.90 471.80V583.90H511.20" fill="none" stroke="#2a2a2a" stroke-width="1.35"/>
<path d="M316.90 474.85H319.90" stroke="#2a2a2a" stroke-width="1"/>
<path transform="translate(298.21,477.85) scale(0.00391,-0.00435)" d="M696 0H515V1237L197 1010V1180L530 1409H696Z" fill="#1e1e1e" stroke="#1e1e1e" stroke-width="41.4"/>
<text transform="translate(302.67,477.85) scale(0.9,1)" font-size="8.9" fill="#1e1e1e">.00</text>
<path d="M316.90 501.16H319.90" stroke="#2a2a2a" stroke-width="1"/>
<text transform="translate(313.80,504.16) scale(0.9,1)" font-size="8.9" text-anchor="end" font-weight="normal" fill="#1e1e1e">0.75</text>
<path d="M316.90 527.48H319.90" stroke="#2a2a2a" stroke-width="1"/>
<text transform="translate(313.80,530.48) scale(0.9,1)" font-size="8.9" text-anchor="end" font-weight="normal" fill="#1e1e1e">0.50</text>
<path d="M316.90 553.79H319.90" stroke="#2a2a2a" stroke-width="1"/>
<text transform="translate(313.80,556.79) scale(0.9,1)" font-size="8.9" text-anchor="end" font-weight="normal" fill="#1e1e1e">0.25</text>
<path d="M316.90 580.10H319.90" stroke="#2a2a2a" stroke-width="1"/>
<text transform="translate(313.80,583.10) scale(0.9,1)" font-size="8.9" text-anchor="end" font-weight="normal" fill="#1e1e1e">0.00</text>
<path d="M324.50 583.90V587.30" stroke="#2a2a2a" stroke-width="1"/>
<text transform="translate(324.70,597.90) scale(0.9,1)" font-size="8.9" text-anchor="middle" font-weight="normal" fill="#1e1e1e">0</text>
<path d="M370.25 583.90V587.30" stroke="#2a2a2a" stroke-width="1"/>
<path transform="translate(366.00,597.90) scale(0.00391,-0.00435)" d="M696 0H515V1237L197 1010V1180L530 1409H696Z" fill="#1e1e1e" stroke="#1e1e1e" stroke-width="41.4"/>
<text transform="translate(370.45,597.90) scale(0.9,1)" font-size="8.9" fill="#1e1e1e">2</text>
<path d="M416.00 583.90V587.30" stroke="#2a2a2a" stroke-width="1"/>
<text transform="translate(416.20,597.90) scale(0.9,1)" font-size="8.9" text-anchor="middle" font-weight="normal" fill="#1e1e1e">24</text>
<path d="M461.75 583.90V587.30" stroke="#2a2a2a" stroke-width="1"/>
<text transform="translate(461.95,597.90) scale(0.9,1)" font-size="8.9" text-anchor="middle" font-weight="normal" fill="#1e1e1e">36</text>
<path d="M507.50 583.90V587.30" stroke="#2a2a2a" stroke-width="1"/>
<text transform="translate(507.70,597.90) scale(0.9,1)" font-size="8.9" text-anchor="middle" font-weight="normal" fill="#1e1e1e">48</text>
<text x="371.25" y="612.00" font-size="10.0" textLength="89.5" lengthAdjust="spacingAndGlyphs" fill="#1e1e1e" style="stroke-width:0.3px">Months from last dose of IDR</text>
<text transform="translate(292.40,526.70) rotate(-90)" x="-25.00" y="0" font-size="9.4" textLength="50.0" lengthAdjust="spacingAndGlyphs" fill="#1e1e1e" style="stroke-width:0.25px">TTNT probability</text>
<text transform="translate(264.90,456.70) scale(1.0,1)" font-size="11.9" text-anchor="start" font-weight="bold" fill="#000">F</text>
<text transform="translate(442.40,481.90) scale(0.9,1)" font-size="9.5" text-anchor="start" font-weight="normal" fill="#1e1e1e" textLength="66.78" lengthAdjust="spacingAndGlyphs">Log-rank p=0.73</text>
<path d="M326.3 561.75H339.2" stroke="#3b5998" stroke-width="1.45"/>
<text transform="translate(342.50,564.70) scale(0.9,1)" font-size="8.9" text-anchor="start" font-weight="normal" fill="#1e1e1e" textLength="62.89" lengthAdjust="spacingAndGlyphs">CXCR4 wildtype</text>
<path d="M326.0 573.55H339.2" stroke="#bf1237" stroke-width="1.7" stroke-dasharray="2.8 1.9"/>
<text transform="translate(342.50,576.30) scale(0.9,1)" font-size="8.9" text-anchor="start" font-weight="normal" fill="#1e1e1e" textLength="62.22" lengthAdjust="spacingAndGlyphs">CXCR4 mutated</text>
<text transform="translate(264.50,624.60) scale(0.9,1)" font-size="8.9" text-anchor="start" font-weight="normal" fill="#1e1e1e" textLength="53.67" lengthAdjust="spacingAndGlyphs">Number at risk</text>
<text transform="translate(313.80,636.40) scale(0.9,1)" font-size="8.9" text-anchor="end" font-weight="normal" fill="#1e1e1e" textLength="46.11" lengthAdjust="spacingAndGlyphs">CXCR4 WT</text>
<text transform="translate(313.80,647.90) scale(0.9,1)" font-size="8.9" text-anchor="end" font-weight="normal" fill="#1e1e1e" textLength="50.89" lengthAdjust="spacingAndGlyphs">CXCR4 MUT</text>
<path transform="translate(319.55,636.40) scale(0.00391,-0.00435)" d="M696 0H515V1237L197 1010V1180L530 1409H696Z" fill="#1e1e1e" stroke="#1e1e1e" stroke-width="41.4"/>
<path transform="translate(324.00,636.40) scale(0.00391,-0.00435)" d="M696 0H515V1237L197 1010V1180L530 1409H696Z" fill="#1e1e1e" stroke="#1e1e1e" stroke-width="41.4"/>
<text transform="translate(369.90,636.40) scale(0.9,1)" font-size="8.9" text-anchor="middle" font-weight="normal" fill="#1e1e1e">7</text>
<text transform="translate(416.10,636.40) scale(0.9,1)" font-size="8.9" text-anchor="middle" font-weight="normal" fill="#1e1e1e">6</text>
<text transform="translate(461.90,636.40) scale(0.9,1)" font-size="8.9" text-anchor="middle" font-weight="normal" fill="#1e1e1e">2</text>
<text transform="translate(507.50,636.40) scale(0.9,1)" font-size="8.9" text-anchor="middle" font-weight="normal" fill="#1e1e1e">0</text>
<path transform="translate(319.55,647.90) scale(0.00391,-0.00435)" d="M696 0H515V1237L197 1010V1180L530 1409H696Z" fill="#1e1e1e" stroke="#1e1e1e" stroke-width="41.4"/>
<text transform="translate(324.00,647.90) scale(0.9,1)" font-size="8.9" fill="#1e1e1e">5</text>
<path transform="translate(365.95,647.90) scale(0.00391,-0.00435)" d="M696 0H515V1237L197 1010V1180L530 1409H696Z" fill="#1e1e1e" stroke="#1e1e1e" stroke-width="41.4"/>
<text transform="translate(370.40,647.90) scale(0.9,1)" font-size="8.9" fill="#1e1e1e">2</text>
<text transform="translate(416.10,647.90) scale(0.9,1)" font-size="8.9" text-anchor="middle" font-weight="normal" fill="#1e1e1e">9</text>
<text transform="translate(461.90,647.90) scale(0.9,1)" font-size="8.9" text-anchor="middle" font-weight="normal" fill="#1e1e1e">5</text>
<text transform="translate(507.50,647.90) scale(0.9,1)" font-size="8.9" text-anchor="middle" font-weight="normal" fill="#1e1e1e">0</text>
</g>
<rect x="0.5" y="0.5" width="519" height="656" fill="none" stroke="#000" stroke-width="1.2"/>
</svg>
</body></html>
